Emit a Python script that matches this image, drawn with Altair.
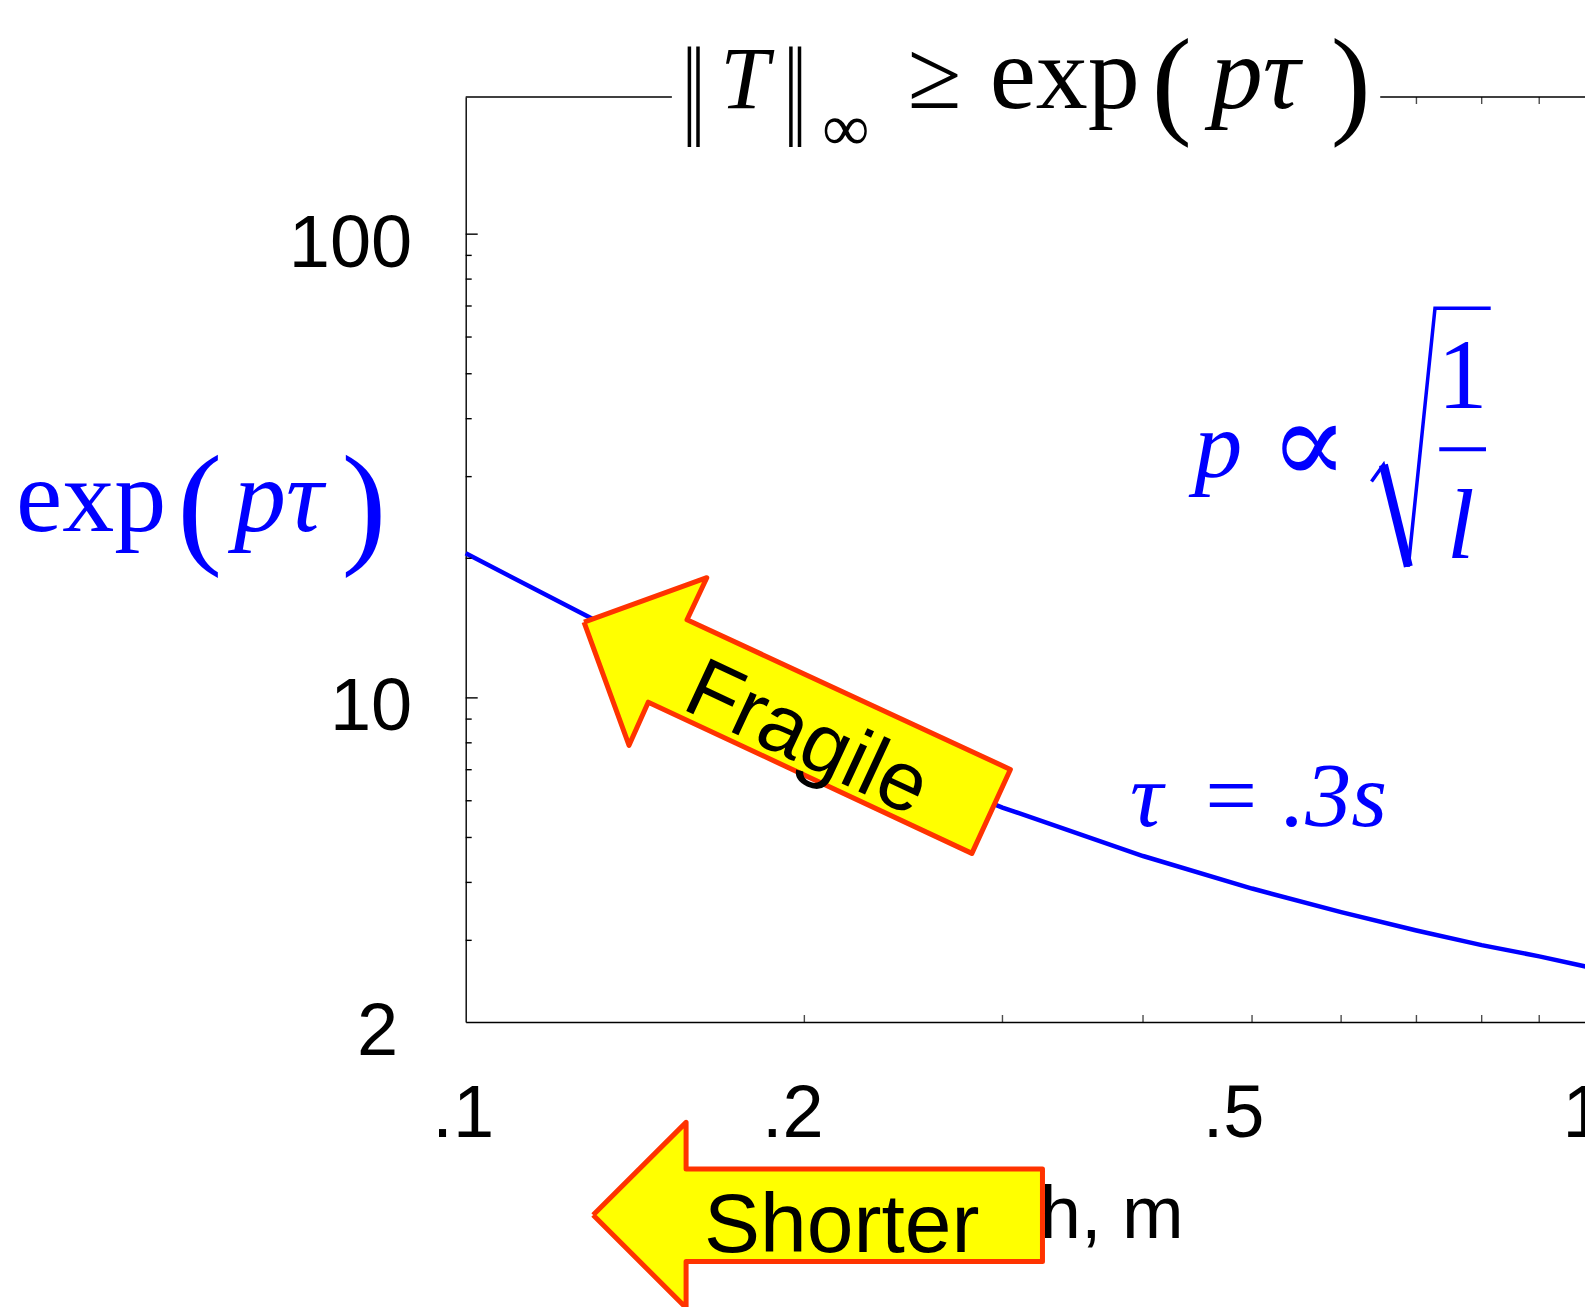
import altair as alt
import pandas as pd

BLUE = "#0000ff"
ARROW_FILL = "#ffff00"
ARROW_EDGE = "#ff3300"
SANS = "Liberation Sans, Arial, sans-serif"
SERIF = "Liberation Serif, Times New Roman, DejaVu Serif, serif"

# Lower bound exp(p*tau) against pendulum length, tau = 0.3 s
length_m = [0.1, 0.2, 0.3, 0.4, 0.5, 0.6, 0.7, 0.8, 0.9, 1.0]
exp_ptau = [20.5, 8.6, 5.8, 4.56, 3.88, 3.45, 3.15, 2.93, 2.77, 2.62]

# Axis labels and tick marks
x_label_values = [0.1, 0.2, 0.5, 1.0]
x_tick_values = [0.2, 0.3, 0.4, 0.5, 0.6, 0.7, 0.8, 0.9]
x_top_tick_values = [0.7, 0.8, 0.9]
y_label_values = [2, 10, 100]
y_major_ticks = [10, 100]
y_minor_ticks = [3, 4, 5, 6, 7, 8, 9, 20, 30, 40, 50, 60, 70, 80, 90]

# Top frame line, interrupted where the title sits
frame_top_from = [0.1, 0.65]
frame_top_to = [0.1525, 1.0]

# Arrow outlines, in (length, value) coordinates
fragile_arrow_l = [0.1274, 0.1638, 0.1573, 0.3049, 0.2818, 0.1453, 0.1397, 0.1274]
fragile_arrow_v = [14.57, 18.16, 14.74, 7.01, 4.62, 9.79, 7.90, 14.57]
shorter_arrow_l = [0.1298, 0.1570, 0.1570, 0.3256, 0.3256, 0.1570, 0.1570, 0.1298]
shorter_arrow_v = [0.7672, 1.215, 0.964, 0.964, 0.6088, 0.6088, 0.4838, 0.7672]

# Square-root sign of the p ~ sqrt(1/l) note
radical_l = [0.6385, 0.6543, 0.6885, 0.7271, 0.8149]
radical_v = [29.28, 31.81, 19.20, 69.18, 69.18]
fraction_bar_l = [0.7335, 0.8071]
fraction_bar_v = 34.38

W, H = 1119.3, 925
xs = alt.Scale(type="log", domain=[0.1, 1.0], range=[0, 1125], nice=False)
ys = alt.Scale(type="log", domain=[2, 197.6], nice=False)

x_axis = alt.Axis(
    values=x_label_values,
    labelExpr="datum.value >= 1 ? '1' : '.' + round(datum.value * 10)",
    ticks=False, tickSize=0, grid=False,
    domainColor="black", domainWidth=1.4,
    labelFont=SANS, labelFontSize=74, labelColor="black",
    labelBaseline="alphabetic", labelPadding=114,
    labelFlush=False, labelOverlap=False,
    labelOffset={"condition": [
        {"test": "datum.value < 0.15", "value": -3},
        {"test": "datum.value < 0.3", "value": -12},
        {"test": "datum.value < 0.7", "value": -19},
    ], "value": -8},
    title="Length, m", titleFont=SANS, titleFontSize=74, titleFontWeight="normal",
    titleColor="black", titleX=553, titleY=215, titleAlign="center",
    titleBaseline="alphabetic",
)
y_axis = alt.Axis(
    values=y_label_values,
    labelExpr="format(datum.value, 'd')",
    ticks=False, tickSize=0, grid=False,
    domainColor="black", domainWidth=1.4,
    labelFont=SANS, labelFontSize=74, labelColor="black",
    labelBaseline="alphabetic", labelOffset=32,
    labelPadding={"condition": {"test": "datum.value < 5", "value": 68}, "value": 54},
    labelFlush=False, labelOverlap=False,
    title=None,
)


# every layer carries the same axis definitions so that they merge into one
def X(field="l"):
    return alt.X(f"{field}:Q", scale=xs, axis=x_axis)


def Y(field="v"):
    return alt.Y(f"{field}:Q", scale=ys, axis=y_axis)


curve = alt.Chart(pd.DataFrame({"l": length_m, "v": exp_ptau})).mark_line(
    color=BLUE, strokeWidth=4.5
).encode(x=X(), y=Y())

# inward tick marks on the frame
bottom_ticks = alt.Chart(pd.DataFrame({"l": x_tick_values})).mark_tick(
    color="black", thickness=1.4, size=7, yOffset=-3.5
).encode(x=X(), y=alt.value("height"))
top_ticks = alt.Chart(pd.DataFrame({"l": x_top_tick_values})).mark_tick(
    color="black", thickness=1.4, size=7, yOffset=3.5
).encode(x=X(), y=alt.value(0))
y_major = alt.Chart(pd.DataFrame({"v": y_major_ticks})).mark_rule(
    color="black", strokeWidth=1.4
).encode(y=Y(), x=alt.value(0), x2=alt.value(12))
y_minor = alt.Chart(pd.DataFrame({"v": y_minor_ticks})).mark_rule(
    color="black", strokeWidth=1.4
).encode(y=Y(), x=alt.value(0), x2=alt.value(6))
top_frame = alt.Chart(pd.DataFrame({"l": frame_top_from, "l2": frame_top_to})).mark_rule(
    color="black", strokeWidth=1.4
).encode(x=X(), x2="l2:Q", y=alt.value(0))

arrow_df = pd.DataFrame({
    "arrow": ["fragile"] * len(fragile_arrow_l) + ["shorter"] * len(shorter_arrow_l),
    "i": list(range(len(fragile_arrow_l))) + list(range(len(shorter_arrow_l))),
    "l": fragile_arrow_l + shorter_arrow_l,
    "v": fragile_arrow_v + shorter_arrow_v,
})
arrows = alt.Chart(arrow_df).mark_line(
    fill=ARROW_FILL, stroke=ARROW_EDGE, strokeWidth=5, strokeJoin="round"
).encode(x=X(), y=Y(), order="i:Q", detail="arrow:N")


def data_text(texts, ls, vs, size, color="black", italic=False, align="center",
              font=SERIF, angle=0):
    return alt.Chart(pd.DataFrame({"t": texts, "l": ls, "v": vs})).mark_text(
        font=font, fontSize=size, fontStyle="italic" if italic else "normal",
        color=color, align=align, baseline="alphabetic", angle=angle,
    ).encode(x=X(), y=Y(), text="t:N")


fragile_text = data_text(["Fragile"], [0.1967], [7.26], 84, font=SANS, angle=25)
shorter_text = data_text(["Shorter"], [0.2159], [0.6382], 84, font=SANS)

tau_italic = data_text(["τ", ".3s"], [0.3895, 0.532], [5.28, 5.28], 92, BLUE, True, "left")
tau_equals = data_text(["="], [0.479], [5.28], 92, BLUE)

p_text = data_text(["p"], [0.4665], [29.9], 96, BLUE, True)
prop_text = data_text(["∝"], [0.5618], [29.1], 116, BLUE)
one_text = data_text(["1"], [0.7694], [42.13], 100, BLUE)
ell_text = data_text(["l"], [0.7663], [20.02], 100, BLUE, True)

radical = alt.Chart(pd.DataFrame({"l": radical_l, "v": radical_v, "i": range(5)})).mark_line(
    color=BLUE, strokeWidth=3.5, strokeJoin="miter"
).encode(x=X(), y=Y(), order="i:Q")
radical_stem = alt.Chart(pd.DataFrame({"l": radical_l[1:3], "v": radical_v[1:3]})).mark_line(
    color=BLUE, strokeWidth=9, strokeCap="butt"
).encode(x=X(), y=Y())
fraction_bar = alt.Chart(pd.DataFrame({"l": [fraction_bar_l[0]], "l2": [fraction_bar_l[1]],
                                       "v": [fraction_bar_v]})).mark_rule(
    color=BLUE, strokeWidth=4
).encode(x=X(), x2="l2:Q", y=Y())


def label_text(text, x, y, size, color="black", italic=False, align="center"):
    return alt.Chart(pd.DataFrame({"t": [text]})).mark_text(
        font=SERIF, fontSize=size, fontStyle="italic" if italic else "normal",
        color=color, align=align, baseline="alphabetic",
    ).encode(text="t:N", x=alt.value(x), y=alt.value(y))


# Title: ||T||_inf >= exp(p tau)
norm_bars = [
    alt.Chart(pd.DataFrame({"k": [0]})).mark_rule(color="black", strokeWidth=3.5).encode(
        x=alt.value(bx), y=alt.value(-50.5), y2=alt.value(50))
    for bx in (223.7, 232.3, 325.2, 333.8)
]
title_parts = [
    label_text("T", 279, 11, 88, italic=True),
    label_text("∞", 380, 53, 66),
    label_text("≥", 469, 11, 98),
    label_text("exp", 524, 11, 104, align="left"),
    label_text("(", 706, 25, 120),
    label_text("pτ", 745, 11, 104, italic=True, align="left"),
    label_text(")", 885, 25, 120),
]

# Vertical axis caption: exp(p tau)
y_caption = [
    label_text("exp", -449.7, 434, 104, BLUE, align="left"),
    label_text("(", -266, 452, 135, BLUE),
    label_text("pτ", -231.7, 434, 104, BLUE, italic=True, align="left"),
    label_text(")", -101.7, 452, 135, BLUE),
]

chart = alt.layer(
    curve, bottom_ticks, top_ticks, y_major, y_minor, top_frame,
    arrows, fragile_text, shorter_text,
    tau_italic, tau_equals, p_text, prop_text, one_text, ell_text,
    radical, radical_stem, fraction_bar,
    *norm_bars, *title_parts, *y_caption,
).properties(
    width=W, height=H,
    autosize=alt.AutoSizeParams(type="none"),
    padding={"left": 465.7, "top": 97, "right": 0, "bottom": 285},
    background="white",
).configure_view(strokeWidth=0)

chart.save("out.html", embed_options={"renderer": "svg", "actions": False})
